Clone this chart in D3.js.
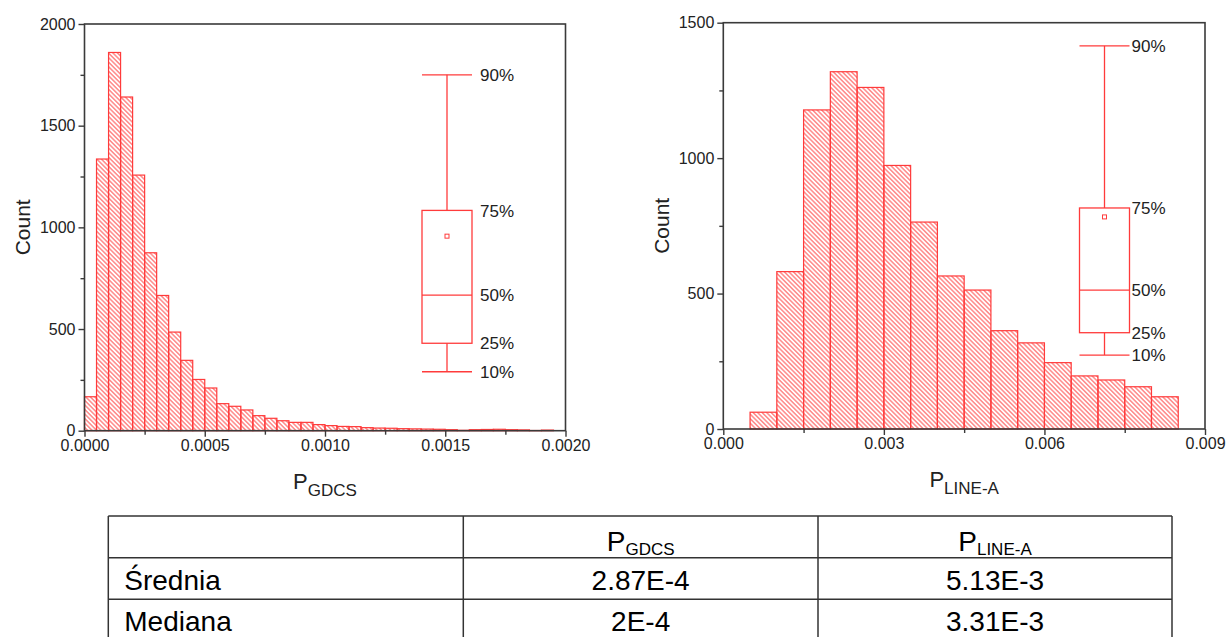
<!DOCTYPE html>
<html>
<head>
<meta charset="utf-8">
<script src="https://cdn.jsdelivr.net/npm/d3@7"></script>
<style>
body { margin: 0; background: #fff; }
svg { display: block; }
</style>
</head>
<body>
<script>
// P_GDCS histogram (bin width 0.00005)
var gdcsBinStart = [0.00000, 0.00005, 0.00010, 0.00015, 0.00020, 0.00025, 0.00030, 0.00035, 0.00040, 0.00045,
                    0.00050, 0.00055, 0.00060, 0.00065, 0.00070, 0.00075, 0.00080, 0.00085, 0.00090, 0.00095,
                    0.00100, 0.00105, 0.00110, 0.00115, 0.00120, 0.00125, 0.00130, 0.00135, 0.00140, 0.00145,
                    0.00150, 0.00155, 0.00160, 0.00165, 0.00170, 0.00175, 0.00180, 0.00185, 0.00190, 0.00195];
var gdcsCounts = [167, 1336, 1860, 1641, 1257, 875, 665, 485, 346, 252,
                  210, 133, 120, 102, 74, 61, 49, 41, 41, 30,
                  25, 21, 20, 15, 13, 12, 10, 9, 8, 7,
                  5, 2, 5, 6, 7, 5, 4, 1, 3, 0];
var gdcsBinWidth = 0.00005;

// P_LINE-A histogram (bin width 0.0005)
var lineBinStart = [0.0005, 0.0010, 0.0015, 0.0020, 0.0025, 0.0030, 0.0035, 0.0040,
                    0.0045, 0.0050, 0.0055, 0.0060, 0.0065, 0.0070, 0.0075, 0.0080];
var lineCounts = [62, 581, 1178, 1319, 1261, 973, 764, 565, 513, 363, 318, 245, 196, 181, 156, 119];
var lineBinWidth = 0.0005;

// box chart stats: p10, q1, median, mean, q3, p90
var gdcsBox = {p10: 0.000087, q1: 0.000129, median: 0.000200, mean: 0.000287, q3: 0.000325, p90: 0.000525};
var lineBox = {p10: 0.00182, q1: 0.00237, median: 0.00342, mean: 0.00522, q3: 0.00544, p90: 0.00943};
var boxLabels = [["p90", "90%"], ["q3", "75%"], ["median", "50%"], ["q1", "25%"], ["p10", "10%"]];

// axis ticks
var gdcsXTicks = [0, 0.0005, 0.0010, 0.0015, 0.0020];
var gdcsXMinor = [0.00025, 0.00075, 0.00125, 0.00175];
var gdcsYTicks = [0, 500, 1000, 1500, 2000];
var gdcsYMinor = [250, 750, 1250, 1750];
var lineXTicks = [0, 0.003, 0.006, 0.009];
var lineXMinor = [0.0015, 0.0045, 0.0075];
var lineYTicks = [0, 500, 1000, 1500];
var lineYMinor = [250, 750, 1250];

// table
var tableHead = [["", ""], ["P", "GDCS"], ["P", "LINE-A"]];
var tableRows = [["Średnia", "2.87E-4", "5.13E-3"],
                 ["Mediana", "2E-4", "3.31E-3"]];

var red = "#ff3b3b";
var axisColor = "#3a3a3a";
var textColor = "#222";
var font = "'Liberation Sans', Arial, sans-serif";

var svg = d3.select("body").append("svg")
    .attr("width", 1226)
    .attr("height", 637);

svg.append("defs").append("pattern")
    .attr("id", "hatch")
    .attr("patternUnits", "userSpaceOnUse")
    .attr("width", 3.2)
    .attr("height", 3.2)
    .attr("patternTransform", "rotate(-45)")
    .append("line")
    .attr("x1", 0.8).attr("y1", -1)
    .attr("x2", 0.8).attr("y2", 5)
    .attr("stroke", red)
    .attr("stroke-width", 0.9);

function drawHist(c) {
    var x = d3.scaleLinear().domain(c.xDomain).range([c.left, c.right]);
    var y = d3.scaleLinear().domain(c.yDomain).range([c.bottom, c.top]);
    var by = d3.scaleLinear().domain(c.boxDomain).range([c.bottom, c.top]);
    var g = svg.append("g");

    // bars
    g.selectAll("rect.bar")
        .data(c.starts.map(function(s, i){ return {x0: s, n: c.counts[i]}; }).filter(function(d){ return d.n > 0; }))
        .enter().append("rect")
        .attr("class", "bar")
        .attr("x", function(d){ return x(d.x0); })
        .attr("y", function(d){ return y(d.n); })
        .attr("width", function(d){ return x(d.x0 + c.binWidth) - x(d.x0); })
        .attr("height", function(d){ return y(0) - y(d.n); })
        .attr("fill", "url(#hatch)")
        .attr("stroke", red)
        .attr("stroke-width", 1.2);

    // box chart
    var b = c.box, bx = c.boxX, bw = 50;
    var bg = g.append("g").attr("stroke", red).attr("stroke-width", 1.3).attr("fill", "none");
    bg.append("line").attr("x1", bx).attr("x2", bx).attr("y1", by(b.p90)).attr("y2", by(b.q3));
    bg.append("line").attr("x1", bx).attr("x2", bx).attr("y1", by(b.q1)).attr("y2", by(b.p10));
    bg.append("line").attr("x1", bx - bw / 2).attr("x2", bx + bw / 2).attr("y1", by(b.p90)).attr("y2", by(b.p90));
    bg.append("line").attr("x1", bx - bw / 2).attr("x2", bx + bw / 2).attr("y1", by(b.p10)).attr("y2", by(b.p10));
    bg.append("rect").attr("x", bx - bw / 2).attr("width", bw)
        .attr("y", by(b.q3)).attr("height", by(b.q1) - by(b.q3));
    bg.append("line").attr("x1", bx - bw / 2).attr("x2", bx + bw / 2).attr("y1", by(b.median)).attr("y2", by(b.median));
    bg.append("rect").attr("x", bx - 2).attr("y", by(b.mean) - 2).attr("width", 4).attr("height", 4)
        .attr("stroke-width", 1);

    g.selectAll("text.pct")
        .data(boxLabels)
        .enter().append("text")
        .attr("class", "pct")
        .attr("x", bx + bw / 2 + c.labelGap)
        .attr("y", function(d){ return by(b[d[0]]); })
        .attr("dy", "0.36em")
        .attr("font-family", font)
        .attr("font-size", 17)
        .attr("fill", textColor)
        .text(function(d){ return d[1]; });

    // axes
    var xAxis = d3.axisBottom(x).tickValues(c.xTicks).tickSize(6).tickPadding(3).tickFormat(d3.format(c.xFormat));
    var xMinor = d3.axisBottom(x).tickValues(c.xMinor).tickSize(4).tickFormat("");
    var yAxis = d3.axisLeft(y).tickValues(c.yTicks).tickSize(6).tickPadding(3).tickFormat(d3.format("d"));
    var yMinor = d3.axisLeft(y).tickValues(c.yMinor).tickSize(4).tickFormat("");

    [[xAxis, "translate(0," + c.bottom + ")"], [xMinor, "translate(0," + c.bottom + ")"],
     [yAxis, "translate(" + c.left + ",0)"], [yMinor, "translate(" + c.left + ",0)"]].forEach(function(a){
        var ag = g.append("g").attr("transform", a[1]).call(a[0]);
        ag.select(".domain").remove();
        ag.selectAll("line").attr("stroke", axisColor).attr("stroke-width", 1.4);
        ag.selectAll("text").attr("font-family", font).attr("font-size", 16).attr("fill", textColor);
    });

    g.append("rect")
        .attr("x", c.left).attr("y", c.top)
        .attr("width", c.right - c.left).attr("height", c.bottom - c.top)
        .attr("fill", "none").attr("stroke", axisColor).attr("stroke-width", 1.6);

    // axis titles
    g.append("text")
        .attr("transform", "translate(" + c.yTitleX + "," + ((c.top + c.bottom) / 2) + ") rotate(-90)")
        .attr("text-anchor", "middle")
        .attr("font-family", font).attr("font-size", 21).attr("fill", textColor)
        .text("Count");

    var t = g.append("text")
        .attr("x", (c.left + c.right) / 2).attr("y", c.bottom + 58)
        .attr("text-anchor", "middle")
        .attr("font-family", font).attr("font-size", 22).attr("fill", textColor);
    t.append("tspan").text("P");
    t.append("tspan").attr("font-size", 17).attr("dy", 7).text(c.sub);
}

drawHist({
    left: 84.5, right: 565.5, top: 24, bottom: 430.7,
    xDomain: [0, 0.002], yDomain: [0, 2000], boxDomain: [0, 0.0006],
    starts: gdcsBinStart, counts: gdcsCounts, binWidth: gdcsBinWidth,
    box: gdcsBox, boxX: 447, labelGap: 8,
    xTicks: gdcsXTicks, xMinor: gdcsXMinor, yTicks: gdcsYTicks, yMinor: gdcsYMinor,
    xFormat: ".4f", yTitleX: 30, sub: "GDCS"
});

drawHist({
    left: 723.3, right: 1205, top: 22.7, bottom: 429,
    xDomain: [0, 0.009], yDomain: [0, 1500], boxDomain: [0, 0.01],
    starts: lineBinStart, counts: lineCounts, binWidth: lineBinWidth,
    box: lineBox, boxX: 1104.5, labelGap: 2,
    xTicks: lineXTicks, xMinor: lineXMinor, yTicks: lineYTicks, yMinor: lineYMinor,
    xFormat: ".3f", yTitleX: 669, sub: "LINE-A"
});

// table
var colEdges = [108.3, 463.3, 818, 1172];
var rowEdges = [516, 557.7, 599.3, 641];
var tfont = "'Liberation Sans', Arial, sans-serif";
var tg = svg.append("g");

tg.selectAll("line.h")
    .data(rowEdges)
    .enter().append("line")
    .attr("x1", colEdges[0]).attr("x2", colEdges[3])
    .attr("y1", function(d){ return d; }).attr("y2", function(d){ return d; })
    .attr("stroke", "#333").attr("stroke-width", 1.5);
tg.selectAll("line.v")
    .data(colEdges)
    .enter().append("line")
    .attr("y1", rowEdges[0]).attr("y2", rowEdges[3])
    .attr("x1", function(d){ return d; }).attr("x2", function(d){ return d; })
    .attr("stroke", "#333").attr("stroke-width", 1.5);

tableHead.forEach(function(h, j){
    if (!h[0]) return;
    var t = tg.append("text")
        .attr("x", (colEdges[j] + colEdges[j + 1]) / 2)
        .attr("y", rowEdges[0] + 35)
        .attr("text-anchor", "middle")
        .attr("font-family", tfont).attr("font-size", 28).attr("fill", "#000");
    t.append("tspan").text(h[0]);
    t.append("tspan").attr("font-size", 17).attr("dy", 4).text(h[1]);
});

tableRows.forEach(function(r, i){
    r.forEach(function(v, j){
        tg.append("text")
            .attr("x", j === 0 ? colEdges[0] + 16 : (colEdges[j] + colEdges[j + 1]) / 2)
            .attr("y", rowEdges[i + 1] + 32)
            .attr("text-anchor", j === 0 ? "start" : "middle")
            .attr("font-family", tfont).attr("font-size", 28).attr("fill", "#000")
            .text(v);
    });
});
</script>
</body>
</html>
